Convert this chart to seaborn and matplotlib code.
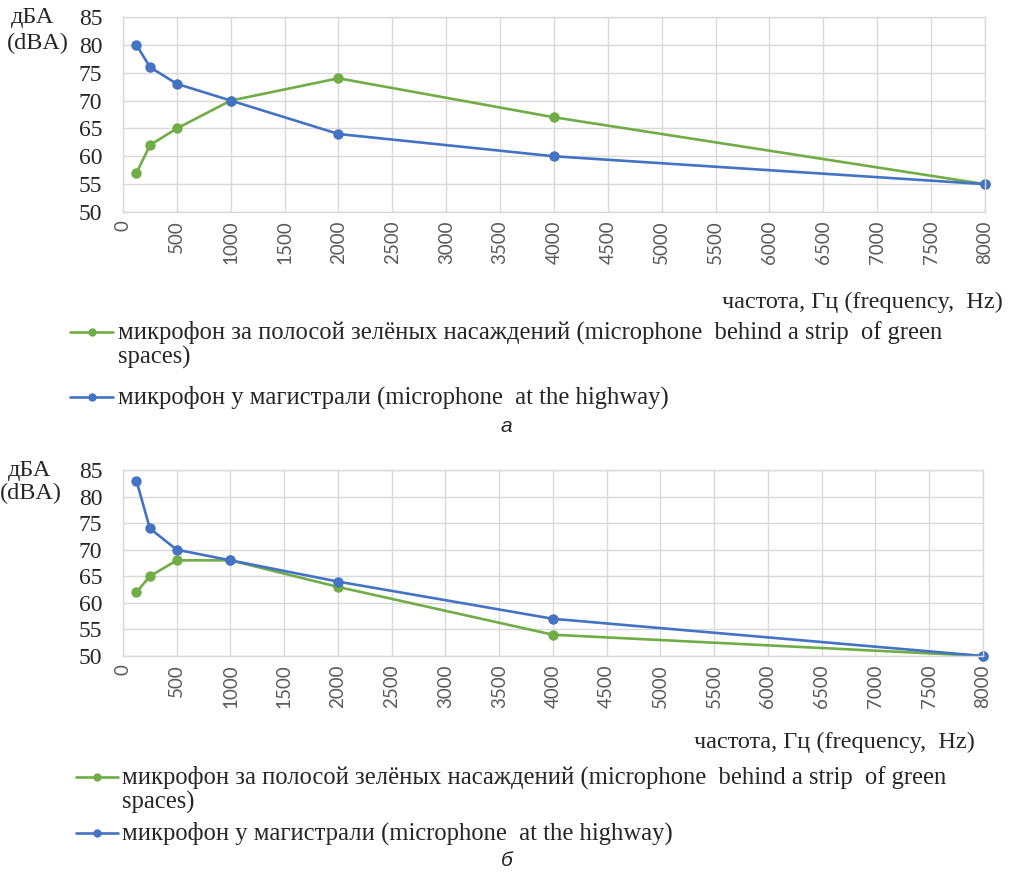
import matplotlib
matplotlib.use("Agg")
import matplotlib.pyplot as plt
import pandas as pd
import seaborn as sns
from matplotlib.lines import Line2D

# Octave-band centre frequencies, Hz
freq = [125, 250, 500, 1000, 2000, 4000, 8000]

# Panel "а": sound level, dBA
green_a = [57, 62, 65, 70, 74, 67, 55]
blue_a = [80, 76, 73, 70, 64, 60, 55]

# Panel "б": sound level, dBA
green_b = [62, 65, 68, 68, 63, 54, 50]
blue_b = [83, 74, 70, 68, 64, 57, 50]

x_ticks = list(range(0, 8001, 500))
y_ticks = list(range(50, 86, 5))

label_green = "микрофон за полосой зелёных насаждений (microphone  behind a strip  of green"
label_green_cont = "spaces)"
label_blue = "микрофон у магистрали (microphone  at the highway)"
x_title = "частота, Гц (frequency,  Hz)"
y_title_ru = "дБА"
y_title_en = "(dBA)"
captions = ["а", "б"]

GREEN = "#70ad47"
BLUE = "#4472c4"
GRID = "#d9d9d9"

sns.set_style("white")
plt.rcParams["font.family"] = ["Liberation Serif", "DejaVu Serif"]

W, H = 1012, 872
fig = plt.figure(figsize=(W / 100, H / 100), dpi=100)


def fx(x):
    return x / W


def fy(y):
    return 1 - y / H


def px_axes(left, top, right, bottom):
    return fig.add_axes([fx(left), fy(bottom), (right - left) / W, (bottom - top) / H])


panels = [
    dict(green=green_a, blue=blue_a, box=(123, 17, 985, 212),
         ytitle=((33, 18), (38, 43)), xtitle=(1003, 302),
         legend=dict(h0=70, h1=113, tx=118, y1=332, y2=357, y3=397),
         caption=(506, 426)),
    dict(green=green_b, blue=blue_b, box=(123, 470, 983, 656),
         ytitle=((30, 470), (31, 493)), xtitle=(975, 742),
         legend=dict(h0=76, h1=118, tx=122, y1=777, y2=802, y3=833),
         caption=(507, 860)),
]

TXT = 17.5
LEG = 17.7

for i, p in enumerate(panels):
    ax = px_axes(*p["box"])
    df = pd.DataFrame({
        "freq": freq * 2,
        "level": p["green"] + p["blue"],
        "series": ["green"] * len(freq) + ["blue"] * len(freq),
    })
    sns.lineplot(data=df, x="freq", y="level", hue="series",
                 hue_order=["green", "blue"],
                 palette={"green": GREEN, "blue": BLUE},
                 marker="o", markersize=7.5, markeredgewidth=0,
                 linewidth=1.9, legend=False, ax=ax, clip_on=False)

    ax.set_xlim(0, 8000)
    ax.set_ylim(50, 85)
    ax.set_xticks(x_ticks)
    ax.set_yticks(y_ticks)
    ax.set_xlabel("")
    ax.set_ylabel("")
    ax.grid(True, color=GRID, linewidth=1)
    ax.set_axisbelow(True)
    for s in ax.spines.values():
        s.set_color(GRID)
        s.set_linewidth(1)
    ax.tick_params(axis="y", length=0, pad=15, labelsize=17, labelcolor="#262626")
    ax.tick_params(axis="x", length=0, pad=6, labelsize=13.5, labelcolor="#595959",
                   labelrotation=90)
    for lbl in ax.get_xticklabels():
        lbl.set_family("Lato")
    for lbl in ax.get_yticklabels():
        lbl.set_family("Liberation Serif")

    # axis titles
    (rx, ry), (ex, ey) = p["ytitle"]
    fig.text(fx(rx), fy(ry), y_title_ru, ha="center", va="center", fontsize=TXT)
    fig.text(fx(ex), fy(ey), y_title_en, ha="center", va="center", fontsize=TXT)
    xt, yt = p["xtitle"]
    fig.text(fx(xt), fy(yt), x_title, ha="right", va="center", fontsize=TXT)

    # legend
    lg = p["legend"]
    mid = (lg["h0"] + lg["h1"]) / 2
    for color, yrow in ((GREEN, lg["y1"]), (BLUE, lg["y3"])):
        fig.add_artist(Line2D([fx(lg["h0"]), fx(mid), fx(lg["h1"])],
                              [fy(yrow)] * 3, transform=fig.transFigure,
                              color=color, linewidth=1.9, marker="o",
                              markersize=6, markevery=[1], markeredgewidth=0))
    fig.text(fx(lg["tx"]), fy(lg["y1"]), label_green, ha="left", va="center",
             fontsize=LEG)
    fig.text(fx(lg["tx"]), fy(lg["y2"]), label_green_cont, ha="left", va="center",
             fontsize=LEG)
    fig.text(fx(lg["tx"]), fy(lg["y3"]), label_blue, ha="left", va="center",
             fontsize=LEG)

    cx, cy = p["caption"]
    fig.text(fx(cx), fy(cy), captions[i], ha="center", va="center", fontsize=15,
             family="Liberation Sans", style="italic")

fig.savefig("out.png", dpi=100, facecolor="white")
